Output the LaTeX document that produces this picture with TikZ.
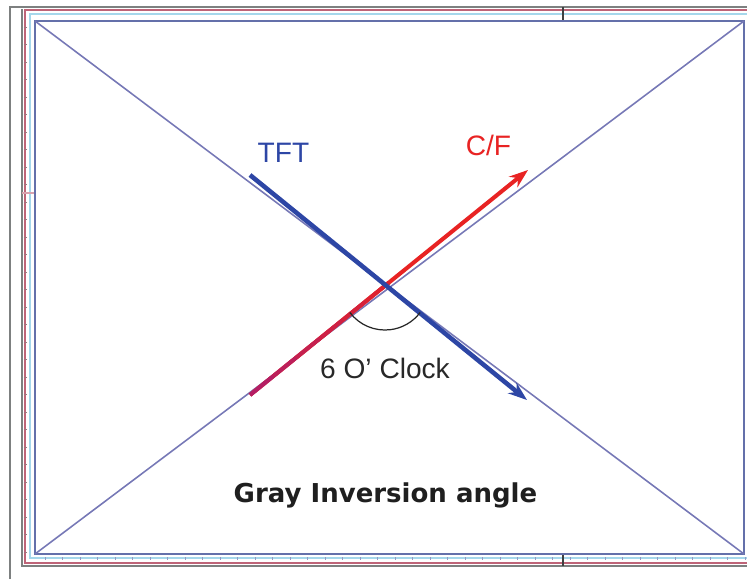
\documentclass[tikz,border=0pt]{standalone}
\usepackage{fontspec}
\setmainfont{Liberation Sans}
\newfontfamily\titlefont{DejaVu Sans}
\usetikzlibrary{arrows.meta,calc}

\definecolor{tftblue}{RGB}{45,70,165}
\definecolor{cfred}{RGB}{232,35,35}
\definecolor{cfmag}{RGB}{180,30,100}
\definecolor{diagblue}{RGB}{118,120,182}
\definecolor{innerblue}{RGB}{100,112,170}
\definecolor{paleblue}{RGB}{165,215,235}
\definecolor{rulered}{RGB}{190,100,120}
\definecolor{rulegray}{RGB}{125,128,128}
\definecolor{clocktext}{RGB}{40,40,40}

\begin{document}
\begin{tikzpicture}[x=0.02cm,y=-0.02cm,
  rule/.style={line width=0.9pt},
  diag/.style={draw=diagblue,line width=0.9pt},
  tftarrow/.style={draw=tftblue,line width=2.6pt,-{Stealth[length=0.38cm,width=0.27cm]}},
  cfarrow/.style={draw=cfred,line width=2.3pt,-{Stealth[length=0.38cm,width=0.27cm]}},
  lbl/.style={anchor=base,inner sep=0pt,font=\fontsize{16}{19}\selectfont}]

\useasboundingbox (0,0) rectangle (747,579);

% Outer frame lines
\draw[rule,rulegray] (10,579) -- (10,7) -- (747,7);
\draw[rule,rulegray] (22,9) -- (22,566) -- (747,566);
\draw[rule,rulered] (747,10) -- (25,10) -- (25,563) -- (747,563);
\draw[rule,paleblue] (747,14) -- (30,14) -- (30,558) -- (747,558);

% Ruler ticks
\foreach \t in {0,...,30}
  \draw[line width=0.5pt,rulered!60!black!70] (23.5,{27+17.5*\t}) -- (26.5,{27+17.5*\t});
\foreach \t in {0,...,40}
  \draw[line width=0.5pt,innerblue!70] ({45+17.5*\t},557) -- ({45+17.5*\t},560);
\draw[line width=0.6pt,rulegray!50!black] (563,7) -- (563,21);
\draw[line width=0.6pt,rulegray!50!black] (563,554) -- (563,566);
\draw[line width=0.6pt,rulered!60] (22,193) -- (35,193);

% Inner frame and diagonals
\coordinate (tl) at (35,21);
\coordinate (tr) at (744,21);
\coordinate (br) at (744,554);
\coordinate (bl) at (35,554);
\draw[line width=0.9pt,innerblue] (tl) rectangle (br);
\draw[diag] (tl) -- (br);
\draw[diag] (bl) -- (tr);

% C/F arrow
\coordinate (cfstart) at (250,395);
\coordinate (cfend) at (528,170);
\draw[cfarrow] (cfstart) -- (cfend);
\foreach \s [evaluate=\s as \mix using 100-\s*16] in {0,...,5}
  \draw[line width=2.3pt,color=cfmag!\mix!cfred]
    ($(cfstart)!{\s/12}!(cfend)$) -- ($(cfstart)!{(\s+1)/12}!(cfend)$);

% TFT arrow
\coordinate (tftstart) at (250,175);
\coordinate (tftend) at (527,400);
\draw[tftarrow] (tftstart) -- (tftend);

% Angle between them
\coordinate (cross) at (385,286);
\draw[line width=0.7pt,black!85] (cross) ++(143:44) arc[start angle=143,end angle=37,radius=44];

% Labels
\node[lbl,text=tftblue] (tftlbl) at (283.5,162) {TFT};
\node[lbl,text=cfred] (cflbl) at (488.5,155) {C/F};
\node[lbl,text=clocktext] (clocklbl) at (385,378) {6 O’ Clock};
\node[anchor=base,inner sep=0pt,text=black!88,font=\titlefont\bfseries\fontsize{14.8}{18}\selectfont]
  (title) at (385.5,502) {Gray Inversion angle};

\end{tikzpicture}
\end{document}
